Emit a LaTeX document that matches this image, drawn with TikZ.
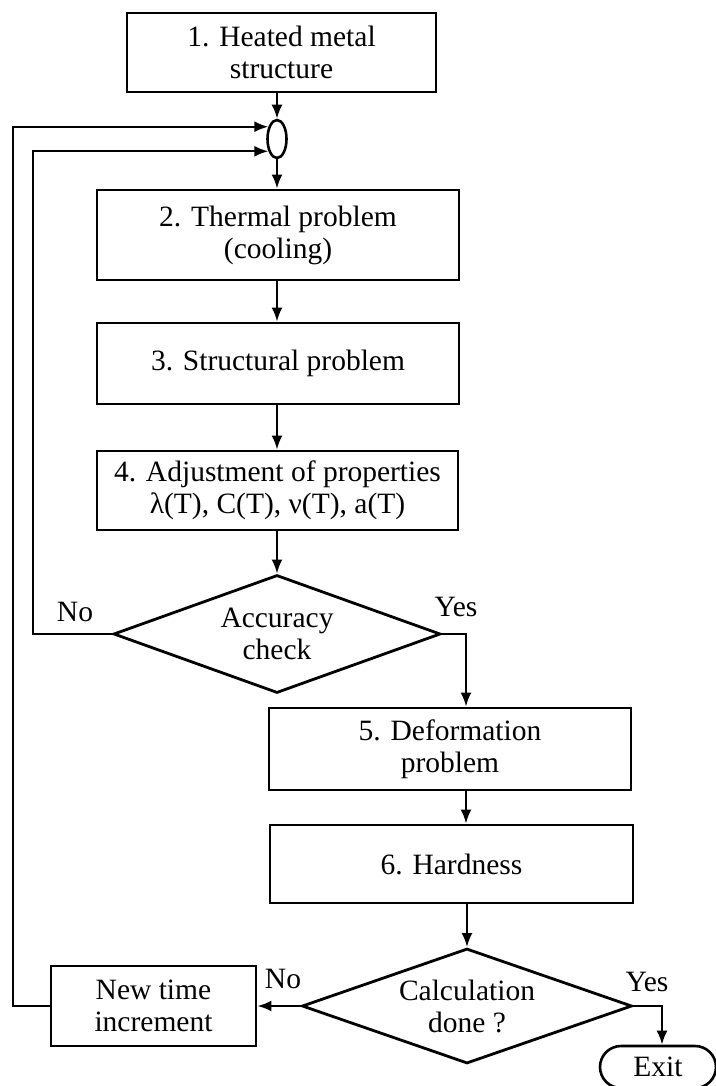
\documentclass[tikz,border=0pt]{standalone}
\usepackage{fontspec}
\setmainfont{Liberation Serif}
\usetikzlibrary{shapes.geometric,shapes.misc,arrows.meta,calc}
\begin{document}
\begin{tikzpicture}[x=1pt,y=-1pt,
  font=\fontsize{29.5}{32}\selectfont,
  box/.style={draw, line width=2.8pt, inner sep=0pt, align=center},
  dia/.style={draw, diamond, line width=2.8pt, inner sep=0pt, align=center},
  arr/.style={line width=2.4pt, -{Latex[length=14pt,width=11pt]}},
  lbl/.style={inner sep=0pt}]
\useasboundingbox (0,0) rectangle (715,1086);

\node[box, minimum width=309pt, minimum height=79pt] (b1) at (281.5,52.5) {1. Heated metal\\structure};
\node[draw, ellipse, line width=2.6pt, minimum width=19pt, minimum height=38pt, inner sep=0pt] (ell) at (277,139) {};
\node[box, minimum width=362pt, minimum height=90pt] (b2) at (278,235) {2. Thermal problem\\(cooling)};
\node[box, minimum width=362pt, minimum height=81pt] (b3) at (278,363.5) {3. Structural problem};
\node[box, minimum width=361pt, minimum height=79pt] (b4) at (277.5,490.5) {4. Adjustment of properties\\λ(T), C(T), ν(T), a(T)};
\node[dia, aspect=2.77, minimum width=327pt, minimum height=118pt] (d1) at (277,634) {Accuracy\\check};
\node[box, minimum width=362pt, minimum height=82pt] (b5) at (450,749) {5. Deformation\\problem};
\node[box, minimum width=363pt, minimum height=78pt] (b6) at (451.5,864) {6. Hardness};
\node[dia, aspect=2.87, minimum width=330pt, minimum height=115pt] (d2) at (467,1006) {Calculation\\done ?};
\node[box, minimum width=205pt, minimum height=80pt] (nt) at (153.5,1006) {New time\\increment};
\node[draw, rounded rectangle, line width=2.6pt, minimum width=116pt, minimum height=42pt, inner sep=0pt] (ex) at (658,1067) {Exit};

\node[lbl] (no1) at (75,612) {No};
\node[lbl] (yes1) at (456,607) {Yes};
\node[lbl] (no2) at (283,979) {No};
\node[lbl] (yes2) at (647,982) {Yes};

\coordinate (c1) at (13,1006);
\coordinate (c2) at (33,634);
\coordinate (j5) at (466,0);
\coordinate (jx) at (662,0);

\draw[arr] (b1.south -| ell) -- (ell.north);
\draw[arr] (ell.south) -- (ell.south |- b2.north);
\draw[arr] (b2.south -| ell) -- (b3.north -| ell);
\draw[arr] (b3.south -| ell) -- (b4.north -| ell);
\draw[arr] (b4.south -| ell) -- (d1.north);
\draw[arr] (d1.east) -| (j5 |- b5.north);
\draw[arr] (j5 |- b5.south) -- (j5 |- b6.north);
\draw[arr] (d2.north |- b6.south) -- (d2.north);
\draw[arr] (d2.west) -- (nt.east);
\draw[arr] (d2.east) -| (jx |- ex.north);
\draw[arr] (nt.west) -| (c1) |- (ell.125);
\draw[arr] (d1.west) -| (c2) |- (ell.235);
\end{tikzpicture}
\end{document}
